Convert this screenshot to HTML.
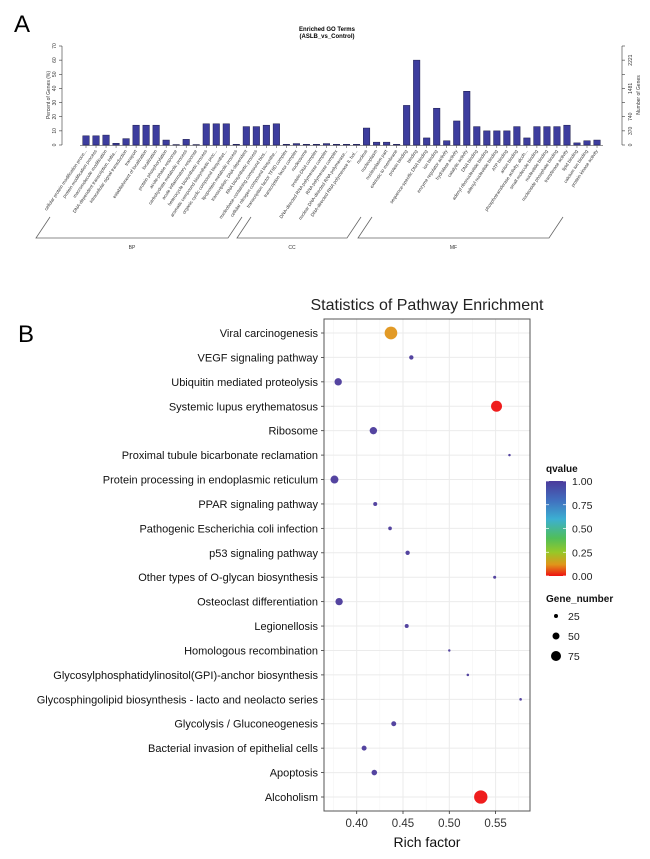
<!DOCTYPE html>
<html><head><meta charset="utf-8"><style>
body{margin:0;background:#fff;width:650px;height:854px;overflow:hidden;font-family:"Liberation Sans",sans-serif}
svg text{font-family:"Liberation Sans",sans-serif}
</style></head><body>
<svg id="fig" width="650" height="854" viewBox="0 0 650 854" xmlns="http://www.w3.org/2000/svg">
<text x="14" y="32" font-size="24">A</text>
<text x="327" y="31" font-size="6" font-weight="bold" text-anchor="middle">Enriched GO Terms</text>
<text x="327" y="38" font-size="6" font-weight="bold" text-anchor="middle">(ASLB_vs_Control)</text>
<g id="goChart"></g>
<text x="18" y="342" font-size="24">B</text>
<text x="427" y="310" font-size="16" text-anchor="middle" fill="#222">Statistics of Pathway Enrichment</text>
<g id="pathChart"></g>
</svg>
<script>
const NS="http://www.w3.org/2000/svg";
function mk(parent,tag,attrs,text){const e=document.createElementNS(NS,tag);for(const k in attrs)e.setAttribute(k,attrs[k]);if(text!==undefined)e.textContent=text;parent.appendChild(e);return e;}

// ---------- Panel A data ----------
const goTerms=["cellular protein modification proce...","protein modification process","macromolecule modification","DNA-dependent transcription, initia...","intracellular signal transduction","transport","establishment of localization","localization","protein phosphorylation","acute-phase response","carbohydrate metabolic process","acute inflammatory response","heterocycle biosynthetic process","aromatic compound biosynthetic proc...","organic cyclic compound biosynthet...","lipoprotein metabolic process","transcription, DNA-dependent","RNA biosynthetic process","nucleobase-containing compound bios...","cellular nitrogen compound biosynthe...",
"transcription factor TFIID complex","transcription factor complex","nucleosome","protein-DNA complex","DNA-directed RNA polymerase complex","RNA polymerase complex","nuclear DNA-directed RNA polymerase...","DNA-directed RNA polymerase II, hol...","nucleus","nucleoplasm","nucleoplasm part","extrinsic to membrane",
"protein binding","binding","sequence-specific DNA binding","ion binding","enzyme regulator activity","hydrolase activity","catalytic activity","DNA binding","adenyl ribonucleotide binding","adenyl nucleotide binding","ATP binding","anion binding","phosphotransferase activity, alcoh...","small molecule binding","nucleotide binding","nucleoside phosphate binding","transferase activity","lipid binding","calcium ion binding","protein kinase activity"];
const goPercent=[6.5,6.5,7,1.2,4.5,14,14,14,3.5,0.3,4,0.3,15,15,15,0.5,13,13,14,15,
0.5,1,0.5,0.5,1,0.5,0.5,0.5,12,2,2,0.5,
28,60,5,26,3,17,38,13,10,10,10,13,5,13,13,13,14,1.5,3,3.5];
const goCategories=["BP","CC","MF"];
const goCategoryCounts=[20,12,20];
const goLeftTicks=[0,10,20,30,40,50,60,70];
const goRightTicks=[0,370,740,1481,2221];
const goTotalGenes=3702;

(function(){
  const g=document.getElementById('goChart');
  const y0=145,pxPer=99/70,x0=86,step=10.02,bw=6.5;
  const yS=v=>y0-v*pxPer;
  const ax=mk(g,'g',{});
  
  
  mk(ax,'line',{x1:62,y1:yS(0),x2:62,y2:yS(70),stroke:'#333','stroke-width':0.6});
  goLeftTicks.forEach(t=>{
    mk(ax,'line',{x1:59,y1:yS(t),x2:62,y2:yS(t),stroke:'#333','stroke-width':0.6});
    mk(ax,'text',{x:56,y:yS(t),'font-size':5,'text-anchor':'middle',transform:`rotate(-90 56 ${yS(t)})`,fill:'#333'},String(t));
  });
  const yl=mk(g,'text',{x:50,y:95,'font-size':5,'text-anchor':'middle',transform:'rotate(-90 50 95)',fill:'#333'},'Percent of Genes (%)');
  
  
  const ar=mk(g,'g',{});
  
  
  mk(ar,'line',{x1:622,y1:yS(0),x2:622,y2:yS(70),stroke:'#333','stroke-width':0.6});
  for(let p=0;p<=70;p+=10) mk(ar,'line',{x1:622,y1:yS(p),x2:625,y2:yS(p),stroke:'#333','stroke-width':0.6});
  goRightTicks.forEach(t=>{
    const yy=yS(t/goTotalGenes*100);
    mk(ar,'text',{x:632,y:yy,'font-size':5,'text-anchor':'middle',transform:`rotate(-90 632 ${yy})`,fill:'#333'},String(t));
  });
  const yr=mk(g,'text',{x:640,y:95,'font-size':5,'text-anchor':'middle',transform:'rotate(-90 640 95)',fill:'#333'},'Number of Genes');
  
  
  mk(g,'line',{x1:80,y1:y0+0.5,x2:603,y2:y0+0.5,stroke:'#333','stroke-width':0.6});
  goPercent.forEach((v,i)=>{
    const cx=x0+i*step;
    const r=mk(g,'rect',{x:cx-bw/2,y:yS(v),width:bw,height:Math.max(0.3,v*pxPer),fill:'#3d3d9e',stroke:'#1a1a4a','stroke-width':0.5});
    
    
    mk(g,'line',{x1:cx,y1:y0+0.5,x2:cx,y2:y0+3,stroke:'#333','stroke-width':0.5});
    const t=mk(g,'text',{x:cx+1,y:y0+6,'font-size':4.6,'text-anchor':'end',transform:`rotate(-56 ${cx+1} ${y0+6})`,fill:'#333'},goTerms[i]);
    
    
  });
  const br=[[36,228],[237,347],[358,549]];
  goCategories.forEach((c,k)=>{
    const [a,b]=br[k];
    const p=mk(g,'polyline',{points:`${a+14},217 ${a},238 ${b},238 ${b+14},217`,fill:'none',stroke:'#666','stroke-width':0.8});
    
    
    const t=mk(g,'text',{x:(a+b)/2,y:249,'font-size':5,'text-anchor':'middle',fill:'#333'},c);
    
    
  });
})();

// ---------- Panel B data ----------
const pathways=["Viral carcinogenesis","VEGF signaling pathway","Ubiquitin mediated proteolysis","Systemic lupus erythematosus","Ribosome","Proximal tubule bicarbonate reclamation","Protein processing in endoplasmic reticulum","PPAR signaling pathway","Pathogenic Escherichia coli infection","p53 signaling pathway","Other types of O-glycan biosynthesis","Osteoclast differentiation","Legionellosis","Homologous recombination","Glycosylphosphatidylinositol(GPI)-anchor biosynthesis","Glycosphingolipid biosynthesis - lacto and neolacto series","Glycolysis / Gluconeogenesis","Bacterial invasion of epithelial cells","Apoptosis","Alcoholism"];
const richFactor=[0.437,0.459,0.380,0.551,0.418,0.565,0.376,0.420,0.436,0.455,0.549,0.381,0.454,0.500,0.520,0.577,0.440,0.408,0.419,0.534];
const geneNumber=[97,28,53,83,53,12,58,25,22,28,17,53,25,12,13,13,33,33,38,103];
const qvalue=[0.12,1,1,0,1,1,1,1,1,1,1,1,1,1,1,1,1,1,1,0];
const xTicks=[0.40,0.45,0.50,0.55];
const qTicks=[1.00,0.75,0.50,0.25,0.00];
const sizeTicks=[25,50,75];

(function(){
  const g=document.getElementById('pathChart');
  const L=324,R=530,T=319,B=811;
  const xS=v=>356.7+(v-0.40)*926;
  const rowY=i=>333+i*(464/19);
  const rS=n=>0.5+0.06*n;
  const stops=[[0,[238,17,17]],[0.12,[224,149,26]],[0.25,[150,200,40]],[0.4,[80,190,90]],[0.6,[60,175,210]],[0.8,[65,110,190]],[1,[75,58,155]]];
  function col(q){for(let i=1;i<stops.length;i++){if(q<=stops[i][0]){const [a,ca]=stops[i-1],[b,cb]=stops[i];const f=(q-a)/(b-a);return 'rgb('+ca.map((c,j)=>Math.round(c+(cb[j]-c)*f)).join(',')+')';}}return 'rgb(75,58,155)';}
  mk(g,'rect',{x:L,y:T,width:R-L,height:B-T,fill:'#fff'});
  for(let v=0.375;v<0.6;v+=0.05){const x=xS(v);if(x>L&&x<R)mk(g,'line',{x1:x,y1:T,x2:x,y2:B,stroke:'#f3f3f3','stroke-width':0.6});}
  xTicks.forEach(v=>mk(g,'line',{x1:xS(v),y1:T,x2:xS(v),y2:B,stroke:'#ebebeb','stroke-width':1}));
  pathways.forEach((p,i)=>{
    const y=rowY(i);
    mk(g,'line',{x1:L,y1:y,x2:R,y2:y,stroke:'#ebebeb','stroke-width':1});
    mk(g,'line',{x1:L-3,y1:y,x2:L,y2:y,stroke:'#333','stroke-width':0.8});
    const t=mk(g,'text',{x:L-6,y:y+4,'font-size':11,'text-anchor':'end',fill:'#111'},p);
    
    
  });
  mk(g,'rect',{x:L,y:T,width:R-L,height:B-T,fill:'none',stroke:'#555','stroke-width':1});
  xTicks.forEach(v=>{
    mk(g,'line',{x1:xS(v),y1:B,x2:xS(v),y2:B+3,stroke:'#333','stroke-width':0.8});
    const t=mk(g,'text',{x:xS(v),y:B+16,'font-size':11.5,'text-anchor':'middle',fill:'#333'},v.toFixed(2));
    
    
  });
  const xt=mk(g,'text',{x:427,y:847,'font-size':14,'text-anchor':'middle',fill:'#111'},'Rich factor');
  
  
  pathways.forEach((p,i)=>{
    const c=mk(g,'circle',{cx:xS(richFactor[i]),cy:rowY(i),r:rS(geneNumber[i]),fill:col(qvalue[i]),'fill-opacity':0.95});
    
    
  });
  const lg=mk(g,'g',{});
  
  
  mk(lg,'text',{x:546,y:472,'font-size':10,'font-weight':'bold',fill:'#111'},'qvalue');
  const defs=mk(lg,'defs',{});
  const grad=mk(defs,'linearGradient',{id:'qg',x1:0,y1:0,x2:0,y2:1});
  [...stops].reverse().forEach(s=>mk(grad,'stop',{offset:(1-s[0])*100+'%','stop-color':'rgb('+s[1].join(',')+')'}));
  const y1=481,y2=576;
  mk(lg,'rect',{x:546,y:y1,width:20,height:y2-y1,fill:'url(#qg)'});
  qTicks.forEach(q=>{
    const y=y2-(y2-y1)*q;
    mk(lg,'line',{x1:546,y1:y,x2:549,y2:y,stroke:'#fff','stroke-width':0.7});
    mk(lg,'line',{x1:563,y1:y,x2:566,y2:y,stroke:'#fff','stroke-width':0.7});
    mk(lg,'text',{x:572,y:y+4,'font-size':10.5,fill:'#222'},q.toFixed(2));
  });
  const sg=mk(g,'g',{});
  
  
  mk(sg,'text',{x:546,y:602,'font-size':10,'font-weight':'bold',fill:'#111'},'Gene_number');
  sizeTicks.forEach((s,i)=>{
    const y=616+i*20;
    mk(sg,'circle',{cx:556,cy:y,r:rS(s),fill:'#000'});
    mk(sg,'text',{x:568,y:y+4,'font-size':10.5,fill:'#222'},String(s));
  });
})();
</script>
</body></html>
